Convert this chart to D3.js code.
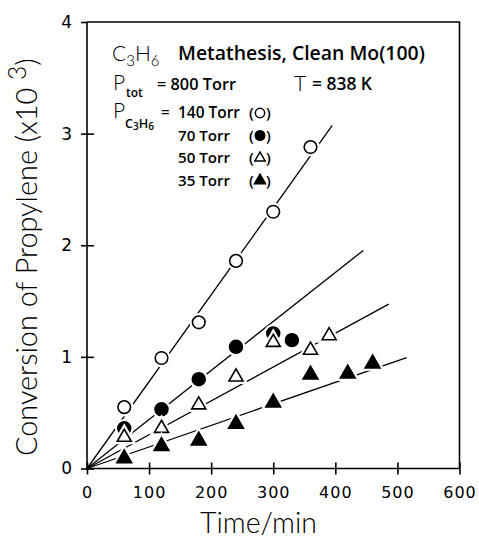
<!DOCTYPE html>
<meta charset="utf-8">
<style>
body { margin: 0; background: #fff; }
svg { display: block; }
.light { font-family: Lato, "DejaVu Sans", sans-serif; font-weight: 300; }
.tick text { font-family: "DejaVu Sans", sans-serif; font-weight: normal; }
.bold { font-family: "Open Sans", "Liberation Sans", Arial, sans-serif; font-weight: 600; }
</style>
<svg width="479" height="538"></svg>
<script src="https://d3js.org/d3.v7.min.js"></script>
<script>

// data (time in min, conversion x10^3)
var xTicks = [0, 100, 200, 300, 400, 500, 600]
var yTicks = [0, 1, 2, 3, 4]

var times140 = [60, 120, 180, 240, 300, 360]
var conv140  = [0.55, 0.99, 1.31, 1.86, 2.30, 2.88]
var times70  = [60, 120, 180, 240, 300, 330]
var conv70   = [0.36, 0.53, 0.80, 1.09, 1.21, 1.15]
var times50  = [60, 120, 180, 240, 300, 360, 390]
var conv50   = [0.28, 0.36, 0.57, 0.82, 1.13, 1.06, 1.19]
var times35  = [60, 120, 180, 240, 300, 360, 420, 460]
var conv35   = [0.09, 0.20, 0.25, 0.40, 0.59, 0.84, 0.85, 0.94]

// straight fits through the origin: slope and last time of each line
var fitSlope = [0.00778, 0.00439, 0.00303, 0.00193]
var fitEnd   = [395, 445, 486, 515]

var legendLabels = ["140 Torr", "70 Torr", "50 Torr", "35 Torr"]

var series = [
  {t: times140, v: conv140, shape: d3.symbolCircle, fill: "#fff", size: 125},
  {t: times70,  v: conv70,  shape: d3.symbolCircle, fill: "#000", size: 130},
  {t: times50,  v: conv50,  shape: d3.symbolTriangle, fill: "#fff", size: 85},
  {t: times35,  v: conv35,  shape: d3.symbolTriangle, fill: "#000", size: 95}
]

var svg = d3.select("svg")

var x = d3.scaleLinear().domain([0, 600]).range([87, 459.5])
var y = d3.scaleLinear().domain([0, 4]).range([468.5, 22])

function fit(sel, target) {
  var w = sel.node().getComputedTextLength()
  var fs = parseFloat(sel.attr("font-size"))
  sel.attr("font-size", fs * target / w)
}

// frame
svg.append("path")
   .attr("d", "M" + x(0) + "," + y(4) + "H" + x(600) + "V" + y(0))
   .attr("fill", "none").attr("stroke", "#000").attr("stroke-width", 1.6)

// axes with ticks crossing the line
var xAxis = svg.append("g")
   .attr("transform", "translate(0," + y(0) + ")")
   .call(d3.axisBottom(x).tickValues(xTicks).tickFormat(d3.format("d")).tickSize(6).tickPadding(12))
xAxis.selectAll(".tick line").attr("y1", -6).attr("y2", 6)
xAxis.selectAll("line, path").attr("stroke", "#000").attr("stroke-width", 1.6)
xAxis.select(".domain").attr("d", "M" + x(0) + ",0H" + x(600))
xAxis.selectAll("text")
     .attr("font-size", 16).attr("fill", "#000")
     .attr("letter-spacing", 1)

var yAxis = svg.append("g")
   .attr("transform", "translate(" + x(0) + ",0)")
   .call(d3.axisLeft(y).tickValues(yTicks).tickFormat(d3.format("d")).tickSize(6).tickPadding(9))
yAxis.selectAll(".tick line").attr("x1", -6).attr("x2", function(d) { return d == 4 ? 0 : 7 })
yAxis.selectAll("line, path").attr("stroke", "#000").attr("stroke-width", 1.6)
yAxis.select(".domain").attr("d", "M0," + y(0) + "V" + y(4))
yAxis.selectAll("text")
     .attr("font-size", 17).attr("fill", "#000")

// axis titles
var yTitle = svg.append("text")
   .attr("class", "light").attr("font-size", 22)
   .attr("transform", "translate(37,456) rotate(-90)")
yTitle.append("tspan").text("Conversion of Propylene (x10 ")
yTitle.append("tspan").attr("dy", "-0.45em").attr("font-size", "0.85em").text("3")
yTitle.append("tspan").attr("dy", "0.38em").text(")")
fit(yTitle, 398)

var xTitle = svg.append("text")
   .attr("class", "light").attr("font-size", 21)
   .attr("x", 200).attr("y", 533)
   .text("Time/min")
fit(xTitle, 117)

// fit lines
var lines = svg.append("g")
fitSlope.forEach(function(k, i) {
  lines.append("line")
       .attr("x1", x(0)).attr("y1", y(0))
       .attr("x2", x(fitEnd[i])).attr("y2", y(k * fitEnd[i]))
       .attr("stroke", "#000").attr("stroke-width", 1.3)
})

// markers, with a white halo that breaks the lines
series.forEach(function(s) {
  var g = svg.append("g")
  var sym = d3.symbol().type(s.shape).size(s.size)
  var pts = s.t.map(function(t, i) { return [t, s.v[i]] })
  g.selectAll("path.halo").data(pts).enter().append("path")
   .attr("class", "halo")
   .attr("d", sym)
   .attr("transform", function(d) { return "translate(" + x(d[0]) + "," + y(d[1]) + ")" })
   .attr("fill", "#fff").attr("stroke", "#fff").attr("stroke-width", 6)
  g.selectAll("path.mark").data(pts).enter().append("path")
   .attr("class", "mark")
   .attr("d", sym)
   .attr("transform", function(d) { return "translate(" + x(d[0]) + "," + y(d[1]) + ")" })
   .attr("fill", s.fill).attr("stroke", "#000").attr("stroke-width", 1.6)
})

// annotation
var ann = svg.append("g")

var t1 = ann.append("text").attr("class", "light").attr("font-size", 21).attr("x", 112).attr("y", 61)
t1.append("tspan").text("C")
t1.append("tspan").attr("dy", 5).attr("font-size", 15).text("3")
t1.append("tspan").attr("dy", -5).text("H")
t1.append("tspan").attr("dy", 5).attr("font-size", 15).text("6")

var t1b = ann.append("text").attr("class", "bold").attr("font-size", 15)
   .attr("x", 178).attr("y", 60).text("Metathesis, Clean Mo(100)")
fit(t1b, 247)

ann.append("text").attr("class", "light").attr("font-size", 21).attr("x", 113).attr("y", 90).text("P")
ann.append("text").attr("class", "bold").attr("font-size", 12).attr("x", 126).attr("y", 97).text("tot")
var t2 = ann.append("text").attr("class", "bold").attr("font-size", 13)
   .attr("x", 157).attr("y", 90).text("= 800 Torr")
fit(t2, 79)

ann.append("text").attr("class", "light").attr("font-size", 21).attr("x", 294).attr("y", 91).text("T")
var t3 = ann.append("text").attr("class", "bold").attr("font-size", 12)
   .attr("x", 312).attr("y", 90).text("= 838 K")
fit(t3, 60)

ann.append("text").attr("class", "light").attr("font-size", 21).attr("x", 113).attr("y", 118).text("P")
var sub = ann.append("text").attr("class", "bold").attr("font-size", 11).attr("x", 125).attr("y", 128)
sub.append("tspan").text("C")
sub.append("tspan").attr("dy", 2).attr("font-size", "0.8em").text("3")
sub.append("tspan").attr("dy", -2).text("H")
sub.append("tspan").attr("dy", 2).attr("font-size", "0.8em").text("6")
fit(sub, 29)
ann.append("text").attr("class", "bold").attr("font-size", 15).attr("x", 161).attr("y", 117).text("=")

var legendY = d3.scaleLinear().domain([0, 1]).range([118, 140.5])
legendLabels.forEach(function(lab, i) {
  var by = legendY(i)
  var lt = ann.append("text").attr("class", "bold").attr("font-size", 14)
     .attr("x", 178).attr("y", by).text(lab)
  fit(lt, i == 0 ? 62 : 52)
  ann.append("text").attr("class", "bold").attr("font-size", 15).attr("x", 249).attr("y", by).text("(")
  ann.append("text").attr("class", "bold").attr("font-size", 15).attr("x", 266).attr("y", by).text(")")
  ann.append("path")
     .attr("d", d3.symbol().type(series[i].shape).size(series[i].size * 0.55))
     .attr("transform", "translate(260," + (by - 5) + ")")
     .attr("fill", series[i].fill).attr("stroke", "#000").attr("stroke-width", 1.5)
})

</script>
</html>
